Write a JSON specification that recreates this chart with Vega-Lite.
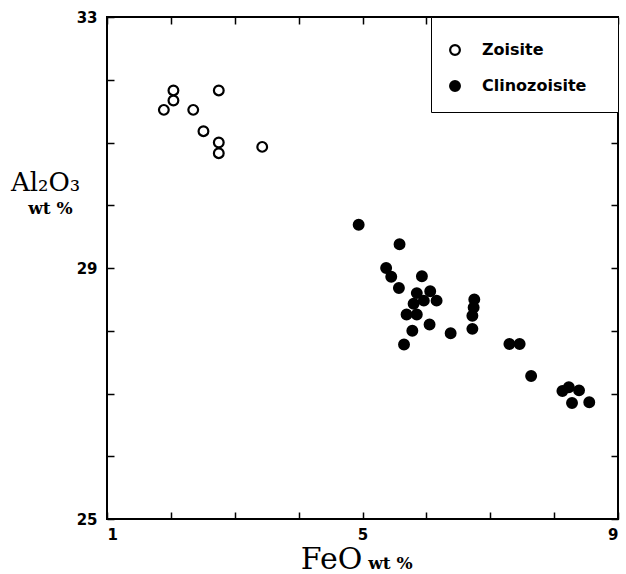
{
  "$schema": "https://vega.github.io/schema/vega-lite/v6.json",
  "width": 511,
  "height": 502,
  "autosize": {"type": "none"},
  "padding": {"left": 107, "top": 17, "right": 8, "bottom": 55},
  "background": "white",
  "config": {
    "view": {"stroke": "black", "strokeWidth": 2},
    "axis": {
      "domain": false, "grid": false, "ticks": true,
      "tickColor": "black", "tickWidth": 1.5, "tickSize": -7,
      "labelFont": "DejaVu Sans", "labelFontWeight": "bold", "labelFontSize": 15, "labelColor": "black",
      "titleColor": "black"
    }
  },
  "data": {"values": [
    {"feo": 1.89, "al2o3": 31.52, "mineral": "Zoisite"},
    {"feo": 2.04, "al2o3": 31.83, "mineral": "Zoisite"},
    {"feo": 2.04, "al2o3": 31.67, "mineral": "Zoisite"},
    {"feo": 2.35, "al2o3": 31.52, "mineral": "Zoisite"},
    {"feo": 2.51, "al2o3": 31.18, "mineral": "Zoisite"},
    {"feo": 2.75, "al2o3": 31.83, "mineral": "Zoisite"},
    {"feo": 2.75, "al2o3": 31.00, "mineral": "Zoisite"},
    {"feo": 2.75, "al2o3": 30.83, "mineral": "Zoisite"},
    {"feo": 3.43, "al2o3": 30.93, "mineral": "Zoisite"},
    {"feo": 4.94, "al2o3": 29.69, "mineral": "Clinozoisite"},
    {"feo": 5.58, "al2o3": 29.38, "mineral": "Clinozoisite"},
    {"feo": 5.37, "al2o3": 29.00, "mineral": "Clinozoisite"},
    {"feo": 5.45, "al2o3": 28.86, "mineral": "Clinozoisite"},
    {"feo": 5.57, "al2o3": 28.68, "mineral": "Clinozoisite"},
    {"feo": 5.93, "al2o3": 28.87, "mineral": "Clinozoisite"},
    {"feo": 5.85, "al2o3": 28.60, "mineral": "Clinozoisite"},
    {"feo": 6.06, "al2o3": 28.63, "mineral": "Clinozoisite"},
    {"feo": 5.80, "al2o3": 28.43, "mineral": "Clinozoisite"},
    {"feo": 5.96, "al2o3": 28.48, "mineral": "Clinozoisite"},
    {"feo": 6.16, "al2o3": 28.48, "mineral": "Clinozoisite"},
    {"feo": 5.69, "al2o3": 28.26, "mineral": "Clinozoisite"},
    {"feo": 5.85, "al2o3": 28.26, "mineral": "Clinozoisite"},
    {"feo": 6.05, "al2o3": 28.10, "mineral": "Clinozoisite"},
    {"feo": 5.78, "al2o3": 28.00, "mineral": "Clinozoisite"},
    {"feo": 5.65, "al2o3": 27.78, "mineral": "Clinozoisite"},
    {"feo": 6.38, "al2o3": 27.96, "mineral": "Clinozoisite"},
    {"feo": 6.75, "al2o3": 28.50, "mineral": "Clinozoisite"},
    {"feo": 6.74, "al2o3": 28.37, "mineral": "Clinozoisite"},
    {"feo": 6.72, "al2o3": 28.24, "mineral": "Clinozoisite"},
    {"feo": 6.72, "al2o3": 28.03, "mineral": "Clinozoisite"},
    {"feo": 7.30, "al2o3": 27.79, "mineral": "Clinozoisite"},
    {"feo": 7.46, "al2o3": 27.79, "mineral": "Clinozoisite"},
    {"feo": 7.64, "al2o3": 27.28, "mineral": "Clinozoisite"},
    {"feo": 8.13, "al2o3": 27.04, "mineral": "Clinozoisite"},
    {"feo": 8.23, "al2o3": 27.10, "mineral": "Clinozoisite"},
    {"feo": 8.39, "al2o3": 27.05, "mineral": "Clinozoisite"},
    {"feo": 8.28, "al2o3": 26.85, "mineral": "Clinozoisite"},
    {"feo": 8.55, "al2o3": 26.86, "mineral": "Clinozoisite"}
  ]},
  "layer": [
    {
      "mark": {"type": "point", "shape": "circle", "size": 95, "stroke": "black", "strokeWidth": 2.2, "opacity": 1},
      "encoding": {
        "x": {
          "field": "feo", "type": "quantitative",
          "scale": {"domain": [1, 9], "nice": false, "zero": false},
          "axis": {
            "orient": "bottom", "values": [1, 2, 3, 4, 5, 6, 7, 8, 9],
            "labelExpr": "(datum.value - 1) % 4 == 0 ? datum.label : ''",
            "labelPadding": 15,
            "title": "FeO", "titleFont": "DejaVu Serif", "titleFontWeight": "normal", "titleFontSize": 30,
            "titleAlign": "center", "titleBaseline": "alphabetic", "titleX": 224, "titleY": 49
          }
        },
        "y": {
          "field": "al2o3", "type": "quantitative",
          "scale": {"domain": [25, 33], "nice": false, "zero": false},
          "axis": {
            "orient": "left", "values": [25, 26, 27, 28, 29, 30, 31, 32, 33],
            "labelExpr": "(datum.value - 25) % 4 == 0 ? datum.label : ''",
            "labelPadding": 17,
            "title": "Al₂O₃", "titleAngle": 0, "titleFont": "DejaVu Serif", "titleFontWeight": "normal", "titleFontSize": 26,
            "titleAlign": "center", "titleBaseline": "alphabetic", "titleX": -62, "titleY": 173
          }
        },
        "fill": {
          "field": "mineral", "type": "nominal",
          "scale": {"domain": ["Zoisite", "Clinozoisite"], "range": ["white", "black"]},
          "legend": {
            "orient": "top-right", "offset": 0,
            "title": "MMMMMMMMMMMMMMMMMMMMMMMMMMMMMMM", "titleColor": "white", "titleFontSize": 6, "titlePadding": 3,
            "padding": 16, "strokeColor": "black", "fillColor": "white",
            "labelFont": "DejaVu Sans", "labelFontWeight": "bold", "labelFontSize": 16, "labelColor": "black",
            "labelOffset": 19, "rowPadding": 16,
            "symbolSize": 95, "symbolType": "circle", "symbolStrokeColor": "black", "symbolStrokeWidth": 2.2,
            "encode": {"legend": {"update": {"strokeWidth": {"value": 2}}}}
          }
        }
      }
    },
    {
      "mark": {"type": "point", "opacity": 0},
      "encoding": {
        "x": {
          "field": "feo", "type": "quantitative",
          "axis": {
            "orient": "top", "values": [1, 2, 3, 4, 5, 6, 7, 8, 9], "labels": false,
            "title": "wt %", "titleFont": "DejaVu Serif", "titleFontWeight": "bold", "titleFontSize": 17,
            "titleAlign": "center", "titleBaseline": "alphabetic", "titleX": 283, "titleY": 551
          }
        },
        "y": {
          "field": "al2o3", "type": "quantitative",
          "axis": {
            "orient": "right", "values": [25, 26, 27, 28, 29, 30, 31, 32, 33], "labels": false,
            "title": "wt %", "titleAngle": 0, "titleFont": "DejaVu Serif", "titleFontWeight": "bold", "titleFontSize": 17,
            "titleAlign": "center", "titleBaseline": "alphabetic", "titleX": -568, "titleY": 196
          }
        }
      }
    }
  ],
  "resolve": {"axis": {"x": "independent", "y": "independent"}}
}
